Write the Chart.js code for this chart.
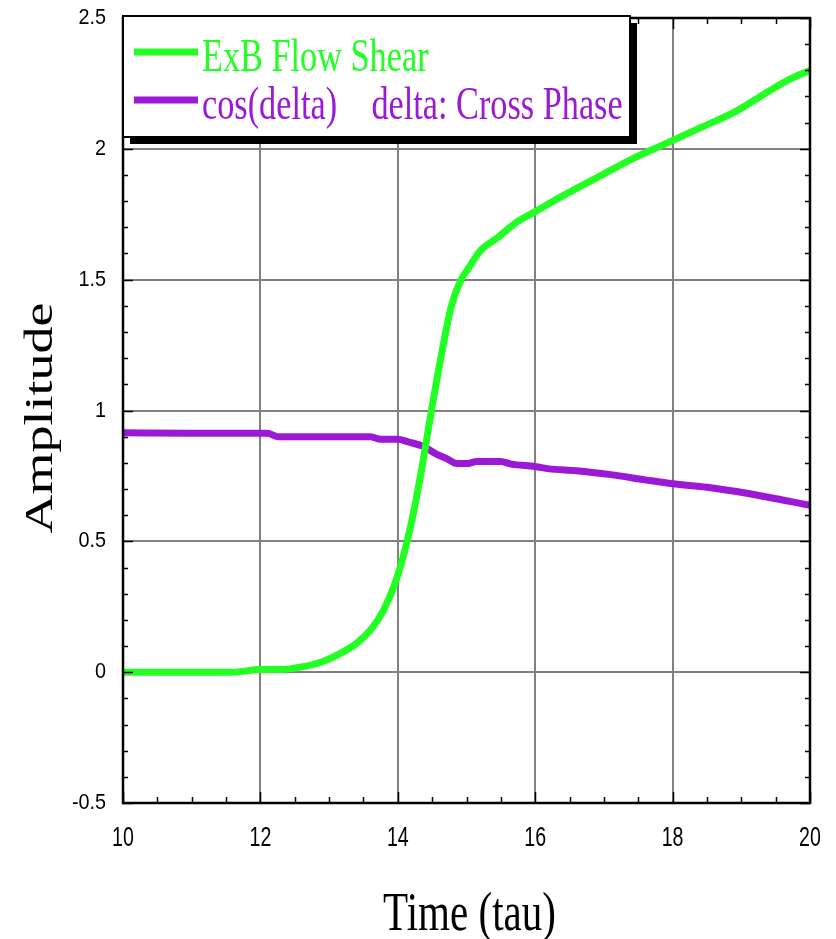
<!DOCTYPE html>
<html>
<head>
<meta charset="utf-8">
<title>ExB Flow Shear</title>
<script src="https://cdn.jsdelivr.net/npm/chart.js@4.4.0/dist/chart.umd.min.js"></script>
<style>
    body { margin: 0; background: #fff; }
    #shear { display: block; }
</style>
</head>
<body>
<canvas id="shear" width="836" height="939"></canvas>
<script>
'use strict';

// ExB flow shear vs time
var shearTime = [10, 11, 11.6, 12.0, 12.3, 12.6, 12.9, 13.15, 13.4, 13.6, 13.8, 14.0, 14.18, 14.33, 14.49,
    14.64, 14.78, 14.92, 15.02, 15.2, 15.45, 15.73, 16.0, 16.4, 16.9, 17.4, 17.9, 18.4, 18.9, 19.4, 19.7, 20.0];
var shearValue = [0, 0, 0, 0.01, 0.01, 0.02, 0.04, 0.07, 0.11, 0.16, 0.24, 0.37, 0.55, 0.75, 1.0,
    1.22, 1.40, 1.50, 1.54, 1.61, 1.66, 1.72, 1.76, 1.82, 1.89, 1.96, 2.02, 2.08, 2.14, 2.22, 2.265, 2.30];

// cos(delta), delta = cross phase
var cosTime = [10, 11, 12.1, 12.25, 13.6, 13.75, 14.0, 14.15, 14.37, 14.57, 14.72, 14.86, 15.0, 15.15, 15.5,
    15.65, 16.0, 16.2, 16.6, 17.1, 17.6, 18.0, 18.5, 19.1, 19.6, 20.0];
var cosValue = [0.915, 0.913, 0.913, 0.90, 0.90, 0.89, 0.89, 0.88, 0.863, 0.832, 0.815, 0.797, 0.797, 0.805, 0.805,
    0.795, 0.786, 0.777, 0.77, 0.755, 0.735, 0.72, 0.707, 0.683, 0.658, 0.638];

var xTicks = [10, 12, 14, 16, 18, 20];
var xTickLabels = ['10', '12', '14', '16', '18', '20'];
var yTicks = [-0.5, 0, 0.5, 1, 1.5, 2, 2.5];
var yTickLabels = ['-0.5', '0', '0.5', '1', '1.5', '2', '2.5'];

var seriesLabels = ['ExB Flow Shear', 'cos(delta)    delta: Cross Phase'];
var seriesColors = ['#22ff22', '#9b19d6'];

function toPoints(xs, ys) {
    var pts = [];
    for (var i = 0; i < xs.length; i++) {
        pts.push({x: xs[i], y: ys[i]});
    }
    return pts;
}

function condensedText(ctx, text, x, y, sx, font, align) {
    ctx.save();
    ctx.translate(x, y);
    ctx.scale(sx, 1);
    ctx.font = font;
    ctx.textAlign = align;
    ctx.textBaseline = 'middle';
    ctx.fillText(text, 0, 0);
    ctx.restore();
}

var frameAndText = {
    id: 'frameAndText',
    afterDraw: function (chart) {
        var ctx = chart.ctx;
        var area = chart.chartArea;
        var xs = chart.scales.x;
        var ys = chart.scales.y;
        var v, p;

        ctx.save();
        ctx.strokeStyle = '#000';
        ctx.lineWidth = 1.5;
        ctx.beginPath();
        // minor + major ticks on x (bottom and top)
        for (v = 10; v <= 20.001; v += 0.5) {
            p = Math.round(xs.getPixelForValue(v)) + 0.5;
            var lx = (Math.abs(v - Math.round(v / 2) * 2) < 0.001) ? 11 : 6;
            ctx.moveTo(p, area.bottom); ctx.lineTo(p, area.bottom - lx);
            ctx.moveTo(p, area.top); ctx.lineTo(p, area.top + lx);
        }
        // minor + major ticks on y (left and right)
        for (v = -0.5; v <= 2.5001; v += 0.1) {
            p = Math.round(ys.getPixelForValue(v)) + 0.5;
            var ly = (Math.abs(v * 2 - Math.round(v * 2)) < 0.001) ? 10 : 5;
            ctx.moveTo(area.left, p); ctx.lineTo(area.left + ly, p);
            ctx.moveTo(area.right, p); ctx.lineTo(area.right - ly, p);
        }
        ctx.stroke();

        ctx.lineWidth = 2.5;
        ctx.strokeRect(area.left, area.top, area.right - area.left, area.bottom - area.top);

        // tick labels
        ctx.fillStyle = '#000';
        for (var i = 0; i < yTicks.length; i++) {
            condensedText(ctx, yTickLabels[i], 106, ys.getPixelForValue(yTicks[i]), 0.9,
                '22px "Liberation Sans", Arial, sans-serif', 'right');
        }
        for (var j = 0; j < xTicks.length; j++) {
            condensedText(ctx, xTickLabels[j], xs.getPixelForValue(xTicks[j]), 838, 0.7,
                '28px "Liberation Sans", Arial, sans-serif', 'center');
        }

        // axis titles
        ctx.save();
        ctx.translate((area.left + area.right) / 2 + 3, 930);
        ctx.scale(0.76, 1);
        ctx.font = '54px "Liberation Serif", "Times New Roman", serif';
        ctx.textAlign = 'center';
        ctx.textBaseline = 'alphabetic';
        ctx.fillText('Time (tau)', 0, 0);
        ctx.restore();

        ctx.save();
        ctx.translate(52, 418);
        ctx.rotate(-Math.PI / 2);
        ctx.scale(1, 0.75);
        ctx.font = '54px "Liberation Serif", "Times New Roman", serif';
        ctx.textAlign = 'center';
        ctx.textBaseline = 'alphabetic';
        ctx.fillText('Amplitude', 0, 0);
        ctx.restore();

        // legend box with drop shadow
        var bx = area.left, by = 16, bw = 507, bh = 121;
        ctx.fillStyle = '#000';
        ctx.fillRect(bx + 7, by + 7, bw, bh);
        ctx.fillStyle = '#fff';
        ctx.fillRect(bx, by, bw, bh);
        ctx.lineWidth = 2;
        ctx.strokeStyle = '#000';
        ctx.strokeRect(bx, by, bw, bh);

        var rows = [52, 100];
        for (var k = 0; k < seriesLabels.length; k++) {
            ctx.strokeStyle = seriesColors[k];
            ctx.lineWidth = 7;
            ctx.lineCap = 'butt';
            ctx.beginPath();
            ctx.moveTo(134, rows[k]);
            ctx.lineTo(198, rows[k]);
            ctx.stroke();
            ctx.save();
            ctx.translate(202, rows[k] + 19);
            ctx.scale(0.745, 1);
            ctx.font = '46px "Liberation Serif", "Times New Roman", serif';
            ctx.fillStyle = seriesColors[k];
            ctx.textAlign = 'left';
            ctx.textBaseline = 'alphabetic';
            ctx.fillText(seriesLabels[k], 0, 0);
            ctx.restore();
        }
        ctx.restore();
    }
};

var shear = document.getElementById('shear');
var shear_chart = new Chart(shear, {
    type: 'line',
    data: {
        datasets: [
            {
                label: seriesLabels[0],
                data: toPoints(shearTime, shearValue),
                borderColor: seriesColors[0],
                backgroundColor: seriesColors[0],
                borderWidth: 7,
                pointRadius: 0,
                fill: false,
                cubicInterpolationMode: 'monotone'
            },
            {
                label: seriesLabels[1],
                data: toPoints(cosTime, cosValue),
                borderColor: seriesColors[1],
                backgroundColor: seriesColors[1],
                borderWidth: 7,
                pointRadius: 0,
                fill: false,
                cubicInterpolationMode: 'monotone'
            }
        ]
    },
    options: {
        responsive: false,
        animation: false,
        layout: {padding: {left: 123, right: 26, top: 18, bottom: 136}},
        plugins: {legend: {display: false}, tooltip: {enabled: false}},
        scales: {
            x: {
                type: 'linear',
                min: 10,
                max: 20,
                ticks: {stepSize: 2, display: false},
                grid: {color: '#808080', lineWidth: 2, drawTicks: false},
                border: {display: false}
            },
            y: {
                type: 'linear',
                min: -0.5,
                max: 2.5,
                ticks: {stepSize: 0.5, display: false},
                grid: {color: '#808080', lineWidth: 2, drawTicks: false},
                border: {display: false}
            }
        }
    },
    plugins: [frameAndText]
});
</script>
</body>
</html>
